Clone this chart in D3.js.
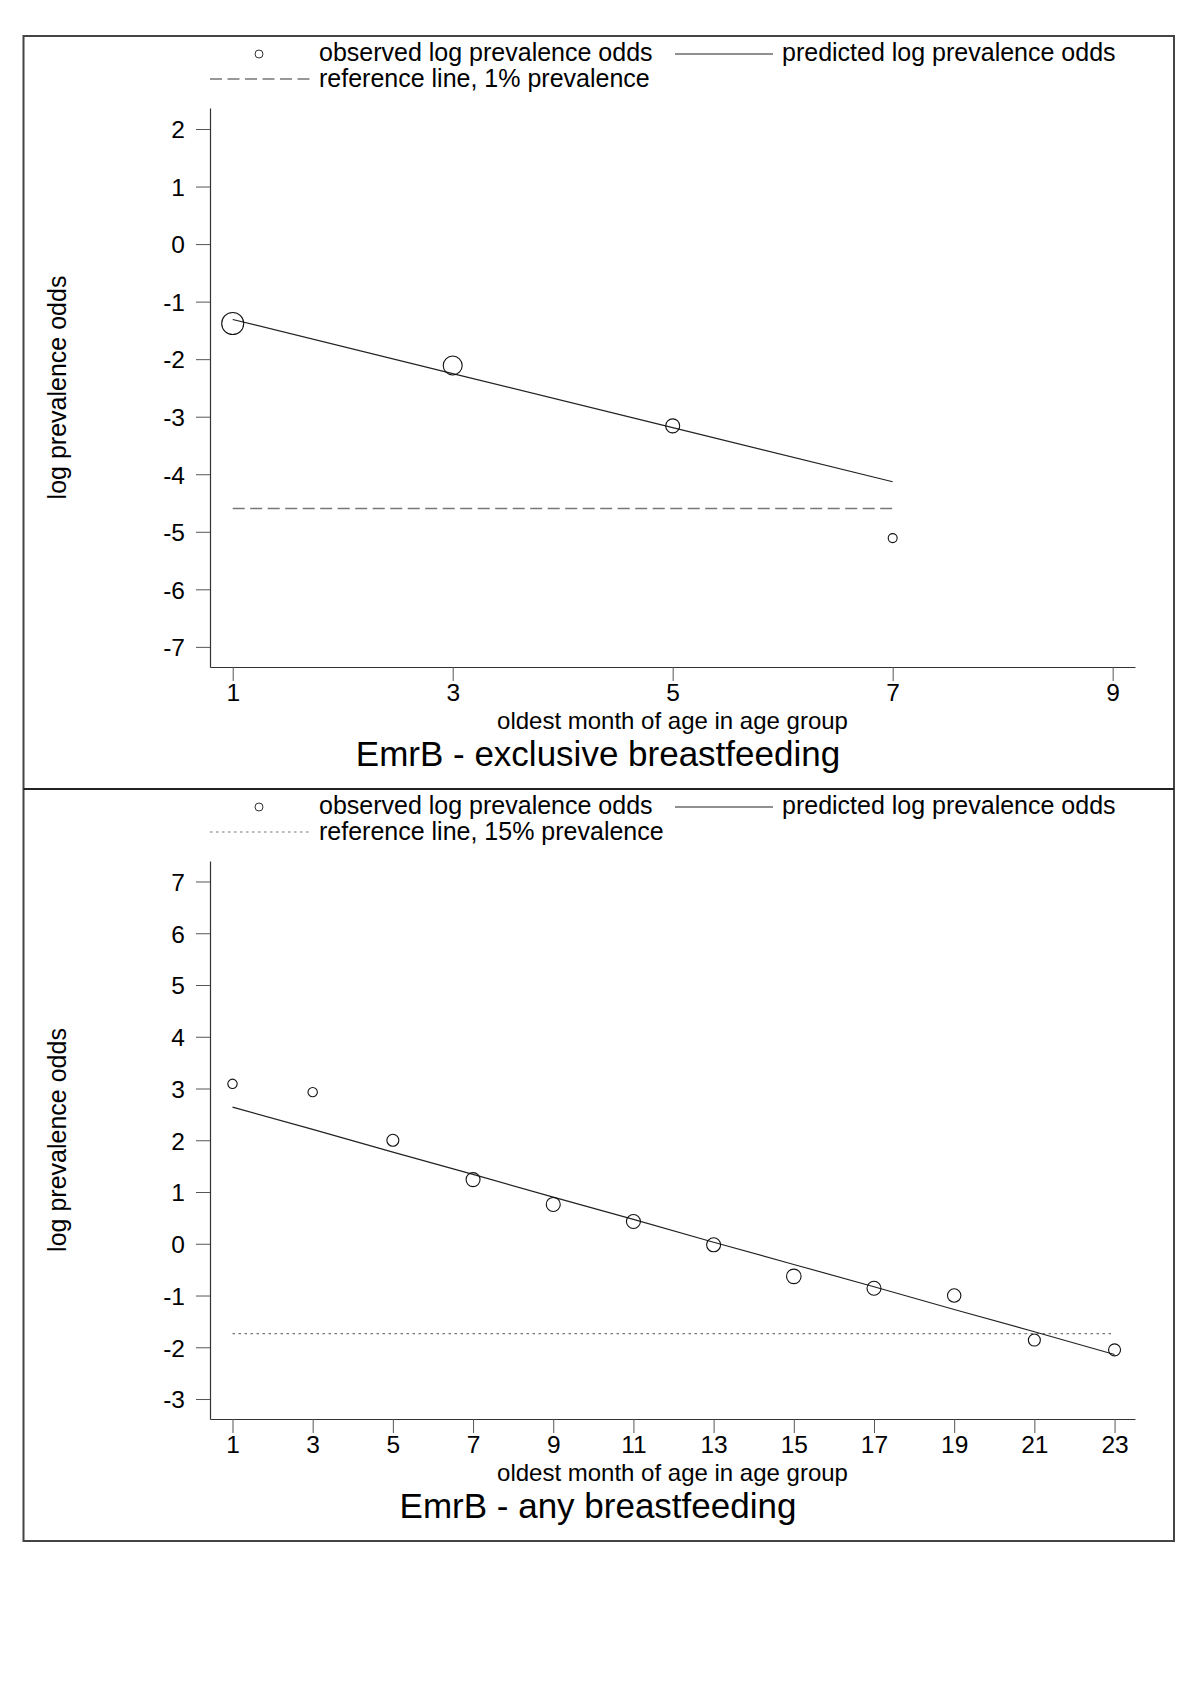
<!DOCTYPE html>
<html>
<head>
<meta charset="utf-8">
<script src="https://cdn.jsdelivr.net/npm/d3@7"></script>
<style>
  html, body { margin: 0; padding: 0; background: #fff; }
  svg text { font-family: "Liberation Sans", Arial, Helvetica, sans-serif; fill: #000; }
</style>
</head>
<body>
<svg id="chart" width="1198" height="1696"></svg>
<script>
// ---------- data ----------
// Panel 1: exclusive breastfeeding
const exMonths      = [1, 3, 5, 7];
const exObserved    = [-1.38, -2.11, -3.16, -5.11];
const exPredicted   = [-1.31, -2.25, -3.19, -4.13];
const exWeights     = [121, 90, 49, 20];
const exReference   = -4.595;            // 1% prevalence
const exXTicks      = [1, 3, 5, 7, 9];
const exYTicks      = [2, 1, 0, -1, -2, -3, -4, -5, -6, -7];

// Panel 2: any breastfeeding
const anyMonths     = [1, 3, 5, 7, 9, 11, 13, 15, 17, 19, 21, 23];
const anyObserved   = [3.09, 2.93, 2.00, 1.24, 0.76, 0.43, -0.02, -0.63, -0.86, -1.00, -1.86, -2.05];
const anyPredicted  = [2.64, 2.21, 1.77, 1.34, 0.90, 0.47, 0.03, -0.40, -0.83, -1.27, -1.70, -2.14];
const anyWeights    = [22, 22, 36, 49, 49, 49, 49, 53, 49, 45, 36, 36];
const anyReference  = -1.735;            // 15% prevalence
const anyXTicks     = [1, 3, 5, 7, 9, 11, 13, 15, 17, 19, 21, 23];
const anyYTicks     = [7, 6, 5, 4, 3, 2, 1, 0, -1, -2, -3];

const titles = ["EmrB - exclusive breastfeeding", "EmrB - any breastfeeding"];
const legendObserved  = "observed log prevalence odds";
const legendPredicted = "predicted log prevalence odds";
const legendRefs = ["reference line, 1% prevalence", "reference line, 15% prevalence"];
const xTitle = "oldest month of age in age group";
const yTitle = "log prevalence odds";

// ---------- drawing ----------
const svg = d3.select("#chart");
const FS = 25;

// outer frame
const frameL = 23.5, frameR = 1174, frameT = 36, frameB = 1541, divider = 789;
svg.append("rect").attr("x", frameL).attr("y", frameT)
  .attr("width", frameR - frameL).attr("height", frameB - frameT)
  .attr("fill", "none").attr("stroke", "#444").attr("stroke-width", 2);
svg.append("line").attr("x1", frameL).attr("x2", frameR)
  .attr("y1", divider).attr("y2", divider)
  .attr("stroke", "#222").attr("stroke-width", 2);

const rScale = d3.scaleSqrt().domain([0, 121]).range([0, 11]);

function panel(cfg) {
  const g = svg.append("g");
  const x = d3.scaleLinear().domain(cfg.xDomain).range([210, 1135]);
  const y = d3.scaleLinear().domain(cfg.yDomain).range([cfg.bottom, cfg.top]);

  // legend
  const lt = cfg.frameTop;
  g.append("circle").attr("cx", 259).attr("cy", lt + 18).attr("r", 4)
    .attr("fill", "none").attr("stroke", "#333").attr("stroke-width", 1);
  g.append("text").attr("x", 319).attr("y", lt + 25).attr("font-size", FS).text(legendObserved);
  g.append("line").attr("x1", 675).attr("x2", 773).attr("y1", lt + 18).attr("y2", lt + 18)
    .attr("stroke", "#222").attr("stroke-width", 1.2);
  g.append("text").attr("x", 782).attr("y", lt + 25).attr("font-size", FS).text(legendPredicted);
  g.append("line").attr("x1", 210).attr("x2", 312).attr("y1", lt + 43).attr("y2", lt + 43)
    .attr("stroke", "#777").attr("stroke-width", cfg.refWidth).attr("stroke-dasharray", cfg.dash);
  g.append("text").attr("x", 319).attr("y", lt + 51).attr("font-size", FS).text(cfg.refLabel);

  // axes
  const yAxis = d3.axisLeft(y).tickValues(cfg.yTicks).tickSize(14).tickSizeOuter(0).tickPadding(11)
    .tickFormat(d => d < 0 ? "-" + Math.abs(d) : String(d));
  const ya = g.append("g").attr("transform", "translate(210,0)").call(yAxis);
  const xAxis = d3.axisBottom(x).tickValues(cfg.xTicks).tickSize(14).tickSizeOuter(0).tickPadding(4);
  const xa = g.append("g").attr("transform", `translate(0,${cfg.bottom})`).call(xAxis);
  [ya, xa].forEach(a => {
    a.select(".domain").attr("stroke", "#333").attr("stroke-width", 1.2);
    a.selectAll(".tick line").attr("stroke", "#555").attr("stroke-width", 1);
    a.selectAll(".tick text").attr("font-size", 24.5)
      .style("font-family", '"Liberation Sans", Arial, sans-serif').attr("fill", "#000");
  });
  xa.selectAll(".tick text").attr("dy", null).attr("y", 34);
  ya.selectAll(".tick text").attr("dy", "0.36em");

  // axis titles
  g.append("text").attr("text-anchor", "middle")
    .attr("transform", `translate(66,${(cfg.top + cfg.bottom) / 2}) rotate(-90)`)
    .attr("font-size", FS).text(yTitle);
  g.append("text").attr("text-anchor", "middle").attr("x", 672.5).attr("y", cfg.bottom + 61.5)
    .attr("font-size", 24).text(xTitle);
  g.append("text").attr("text-anchor", "middle").attr("x", 598).attr("y", cfg.bottom + 99)
    .attr("font-size", 35).text(cfg.title);

  // reference line
  const m = cfg.months;
  g.append("line").attr("x1", x(m[0])).attr("x2", x(m[m.length - 1]))
    .attr("y1", y(cfg.ref)).attr("y2", y(cfg.ref))
    .attr("stroke", "#777").attr("stroke-width", cfg.refWidth).attr("stroke-dasharray", cfg.dash);

  // predicted line
  const line = d3.line().x((d, i) => x(m[i])).y(d => y(d));
  g.append("path").datum(cfg.predicted).attr("d", line)
    .attr("fill", "none").attr("stroke", "#222").attr("stroke-width", 1.2);

  // observed circles
  g.selectAll("circle.obs").data(cfg.observed).enter().append("circle")
    .attr("class", "obs")
    .attr("cx", (d, i) => x(m[i])).attr("cy", d => y(d))
    .attr("r", (d, i) => rScale(cfg.weights[i]))
    .attr("fill", "none").attr("stroke", "#111").attr("stroke-width", 1.1);
}

panel({
  frameTop: frameT, top: 108, bottom: 667,
  xDomain: [0.7936, 9.203], yDomain: [-7.35, 2.365],
  xTicks: exXTicks, yTicks: exYTicks,
  months: exMonths, observed: exObserved, predicted: exPredicted, weights: exWeights,
  ref: exReference, refLabel: legendRefs[0], dash: "12,5.5", refWidth: 1.5,
  title: titles[0]
});

panel({
  frameTop: divider, top: 861, bottom: 1419,
  xDomain: [0.439, 23.51], yDomain: [-3.386, 7.396],
  xTicks: anyXTicks, yTicks: anyYTicks,
  months: anyMonths, observed: anyObserved, predicted: anyPredicted, weights: anyWeights,
  ref: anyReference, refLabel: legendRefs[1], dash: "2.5,3.5", refWidth: 1.2,
  title: titles[1]
});
</script>
</body>
</html>
